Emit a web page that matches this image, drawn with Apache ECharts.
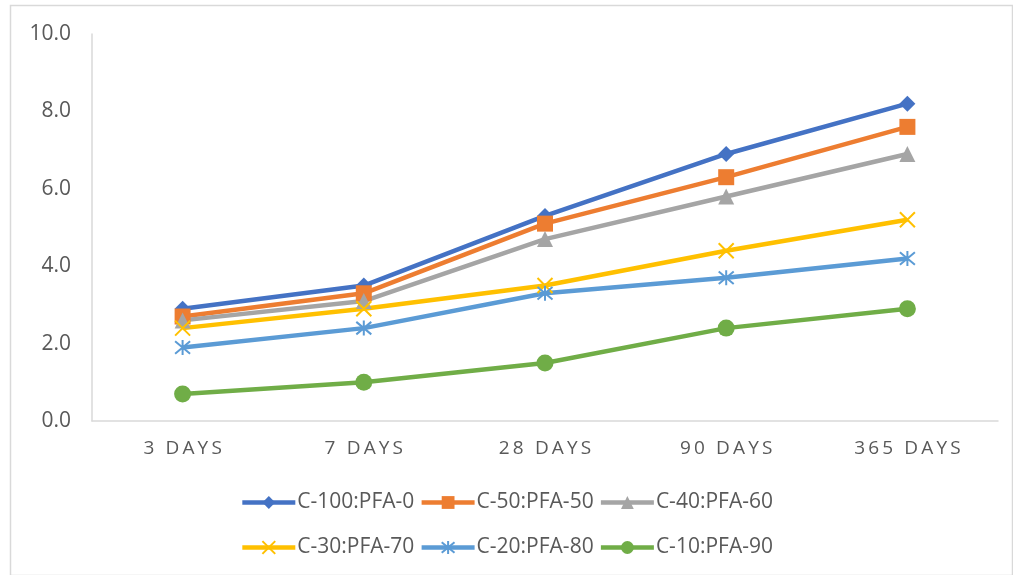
<!DOCTYPE html>
<html>
<head>
<meta charset="utf-8">
<script src="https://cdn.jsdelivr.net/npm/echarts@6/dist/echarts.min.js"></script>
<style>
  html, body { margin: 0; padding: 0; background: #fff; }
  #main { width: 1013px; height: 575px; }
</style>
</head>
<body>
<div id="main"></div>
<script>
const CATEGORIES = ['3 DAYS', '7 DAYS', '28 DAYS', '90 DAYS', '365 DAYS'];
const SERIES_NAMES = ['C-100:PFA-0', 'C-50:PFA-50', 'C-40:PFA-60', 'C-30:PFA-70', 'C-20:PFA-80', 'C-10:PFA-90'];
const C100 = [2.9, 3.5, 5.3, 6.9, 8.2];
const C50 = [2.7, 3.3, 5.1, 6.3, 7.6];
const C40 = [2.6, 3.1, 4.7, 5.8, 6.9];
const C30 = [2.4, 2.9, 3.5, 4.4, 5.2];
const C20 = [1.9, 2.4, 3.3, 3.7, 4.2];
const C10 = [0.7, 1.0, 1.5, 2.4, 2.9];
const Y_TICKS = [0, 2, 4, 6, 8, 10];

const chart = echarts.init(document.getElementById('main'));

const COLORS = ['#4472C4', '#ED7D31', '#A5A5A5', '#FFC000', '#5B9BD5', '#70AD47'];
const VALUES = [C100, C50, C40, C30, C20, C10];
const SYMBOLS = [
  { symbol: 'diamond', size: 16, border: 0 },
  { symbol: 'rect', size: 16, border: 0 },
  { symbol: 'triangle', size: 16, border: 0 },
  { symbol: 'path://M0,0L10,10M10,0L0,10', size: 15, border: 2 },
  { symbol: 'path://M0,0L10,10M10,0L0,10M5,-1L5,11', size: 15, border: 2 },
  { symbol: 'circle', size: 17, border: 0 }
];

// spread letters a bit like the original axis labels
const spaced = s => s.split('').join('\u2009');

const series = SERIES_NAMES.map((name, i) => ({
  name: name,
  type: 'line',
  data: VALUES[i],
  symbol: SYMBOLS[i].symbol,
  symbolSize: SYMBOLS[i].size,
  showAllSymbol: true,
  lineStyle: { color: COLORS[i], width: 4.5 },
  itemStyle: {
    color: COLORS[i],
    borderColor: COLORS[i],
    borderWidth: SYMBOLS[i].border
  },
  emphasis: { disabled: true }
}));

const legendBase = {
  itemWidth: 53,
  itemHeight: 16,
  itemGap: 5,
  lineStyle: { width: 4.5 },
  textStyle: { color: '#595959', fontSize: 21, fontFamily: 'Open Sans', padding: [0, 0, 0, -3] },
  left: 'center'
};

chart.setOption({
  backgroundColor: '#fff',
  animation: false,
  graphic: [{
    type: 'rect',
    shape: { x: 10.5, y: 5.5, width: 1002, height: 570 },
    style: { fill: 'none', stroke: '#d9d9d9', lineWidth: 1.5 },
    silent: true
  }],
  grid: { left: 92, right: 15, top: 34, bottom: 154 },
  legend: [
    Object.assign({}, legendBase, { data: SERIES_NAMES.slice(0, 3), top: 487 }),
    Object.assign({}, legendBase, { data: SERIES_NAMES.slice(3), top: 532 })
  ],
  xAxis: {
    type: 'category',
    data: CATEGORIES,
    boundaryGap: true,
    axisLine: { lineStyle: { color: '#d9d9d9', width: 1.5 } },
    axisTick: { show: false },
    axisLabel: {
      color: '#595959',
      fontSize: 19,
      fontFamily: 'Open Sans',
      margin: 18,
      formatter: v => spaced(v)
    }
  },
  yAxis: {
    type: 'value',
    min: Y_TICKS[0],
    max: Y_TICKS[Y_TICKS.length - 1],
    interval: 2,
    axisLine: { show: true, lineStyle: { color: '#d9d9d9', width: 1.5 } },
    axisTick: { show: false },
    splitLine: { show: false },
    axisLabel: {
      color: '#595959',
      fontSize: 21,
      fontFamily: 'Open Sans',
      margin: 21,
      formatter: v => v.toFixed(1)
    }
  },
  series: series
});
</script>
</body>
</html>
